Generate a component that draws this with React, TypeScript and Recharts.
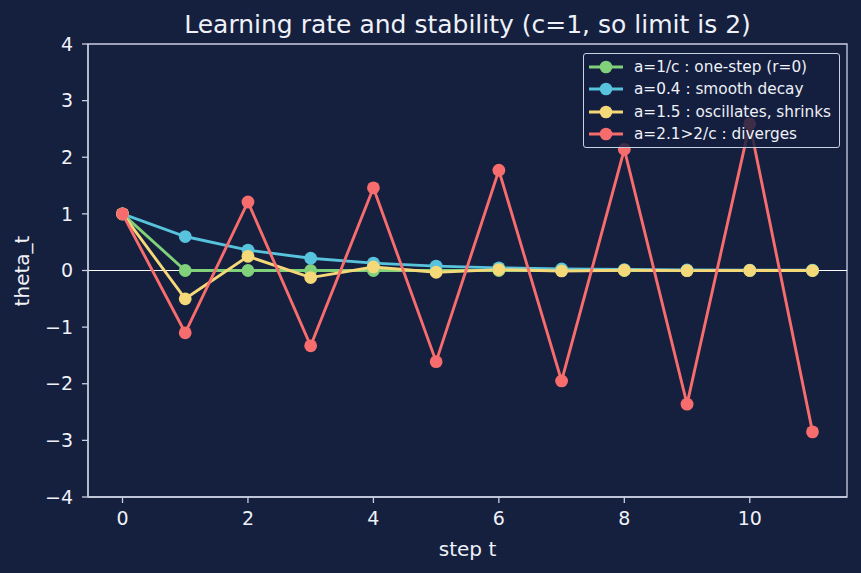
import React from "react";
import {
  LineChart,
  Line,
  XAxis,
  YAxis,
  ReferenceLine,
  ReferenceArea,
} from "recharts";

// step index t
const steps = [0, 1, 2, 3, 4, 5, 6, 7, 8, 9, 10, 11];

// theta_t for each learning rate a (c = 1)
const oneStep = [1, 0, 0, 0, 0, 0, 0, 0, 0, 0, 0, 0];
const smoothDecay = [1, 0.6, 0.36, 0.216, 0.13, 0.078, 0.047, 0.028, 0.017, 0.01, 0.006, 0.004];
const oscillating = [1, -0.5, 0.25, -0.125, 0.0625, -0.031, 0.016, -0.008, 0.004, -0.002, 0.001, -0.0005];
const diverging = [1, -1.1, 1.21, -1.33, 1.46, -1.61, 1.77, -1.95, 2.14, -2.36, 2.59, -2.85];

const xTicks = [0, 2, 4, 6, 8, 10];
const yTicks = [-4, -3, -2, -1, 0, 1, 2, 3, 4];

const seriesNames = [
  "a=1/c : one-step (r=0)",
  "a=0.4 : smooth decay",
  "a=1.5 : oscillates, shrinks",
  "a=2.1>2/c : diverges",
];
const seriesColors = ["#80d17a", "#57c3dc", "#f5d878", "#f76d6d"];

const data = steps.map((t, i) => ({
  t,
  s0: oneStep[i],
  s1: smoothDecay[i],
  s2: oscillating[i],
  s3: diverging[i],
}));

const BG = "#151f3e";
const SPINE = "#c9d0e2";
const TEXT = "#eef1f8";
const FONT = "'DejaVu Sans', sans-serif";

const fmt = (v: number) => (v < 0 ? `\u2212${Math.abs(v)}` : `${v}`);

function LegendBox() {
  return (
    <div
      style={{
        position: "absolute",
        left: 583,
        top: 53,
        width: 257,
        height: 95,
        border: `1.2px solid ${SPINE}`,
        borderRadius: 3,
        background: "rgba(21,31,62,0.82)",
        boxSizing: "border-box",
        fontFamily: FONT,
        fontSize: 15.3,
        color: TEXT,
      }}
    >
      {seriesNames.map((name, i) => (
        <div
          key={name}
          style={{
            position: "absolute",
            left: 0,
            top: 1.5 + i * 22.6,
            height: 22,
            display: "flex",
            alignItems: "center",
            whiteSpace: "nowrap",
          }}
        >
          <svg width={50} height={22} style={{ display: "block" }}>
            <line x1={5} x2={39} y1={11} y2={11} stroke={seriesColors[i]} strokeWidth={2.9} />
            <circle cx={22} cy={11} r={6.3} fill={seriesColors[i]} />
          </svg>
          <span>{name}</span>
        </div>
      ))}
    </div>
  );
}

export default function App() {
  return (
    <div
      style={{
        position: "fixed",
        left: 0,
        top: 0,
        width: 861,
        height: 573,
        background: BG,
        fontFamily: FONT,
      }}
    >
      <LineChart
        width={861}
        height={573}
        data={data}
        margin={{ top: 44, right: 14, bottom: 75, left: 87 }}
      >
        <XAxis
          dataKey="t"
          type="number"
          domain={[-0.55, 11.55]}
          allowDataOverflow
          ticks={xTicks}
          height={1}
          tickSize={6}
          tickMargin={9}
          stroke={SPINE}
          strokeWidth={1.3}
          tick={{ fill: TEXT, fontSize: 19, fontFamily: FONT }}
        />
        <YAxis
          type="number"
          domain={[-4, 4]}
          allowDataOverflow
          ticks={yTicks}
          width={1}
          tickSize={6}
          tickMargin={9}
          stroke={SPINE}
          strokeWidth={1.3}
          tickFormatter={fmt}
          tick={{ fill: TEXT, fontSize: 19, fontFamily: FONT }}
        />
        <ReferenceArea
          x1={-0.55}
          x2={11.55}
          y1={-4}
          y2={4}
          fill="none"
          fillOpacity={0}
          stroke={SPINE}
          strokeWidth={1.3}
        />
        <ReferenceLine y={0} stroke="#ffffff" strokeWidth={1} />
        {seriesNames.map((name, i) => (
          <Line
            key={name}
            dataKey={`s${i}`}
            name={name}
            stroke={seriesColors[i]}
            strokeWidth={2.9}
            dot={{ r: 6.4, fill: seriesColors[i], stroke: "none" }}
            activeDot={false}
            isAnimationActive={false}
          />
        ))}
      </LineChart>
      <div
        style={{
          position: "absolute",
          left: 88,
          width: 759,
          top: 9,
          textAlign: "center",
          color: TEXT,
          fontSize: 25,
          lineHeight: "32px",
          whiteSpace: "nowrap",
        }}
      >
        Learning rate and stability (c=1, so limit is 2)
      </div>
      <div
        style={{
          position: "absolute",
          left: 88,
          width: 759,
          top: 536,
          textAlign: "center",
          color: TEXT,
          fontSize: 20,
          lineHeight: "26px",
        }}
      >
        step t
      </div>
      <div
        style={{
          position: "absolute",
          left: 22,
          top: 271,
          transform: "translate(-50%, -50%) rotate(-90deg)",
          color: TEXT,
          fontSize: 20,
          lineHeight: "26px",
          whiteSpace: "nowrap",
        }}
      >
        theta_t
      </div>
      <LegendBox />
    </div>
  );
}
